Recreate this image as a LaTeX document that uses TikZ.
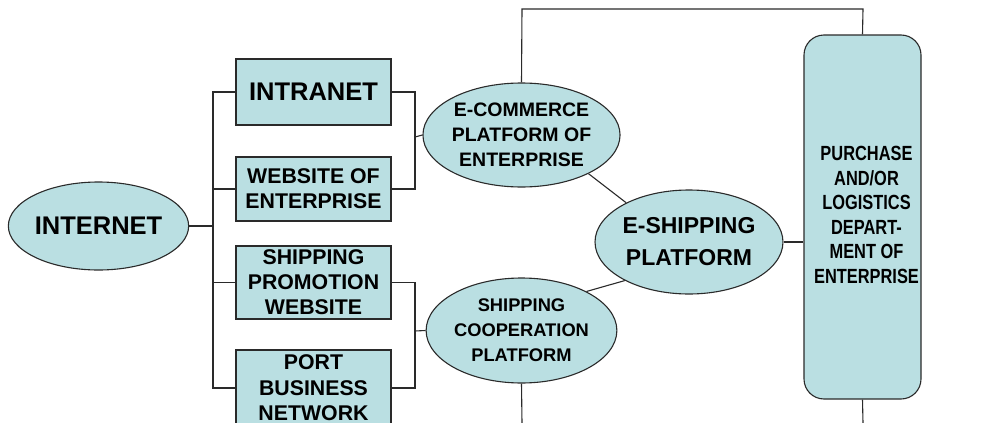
\documentclass[tikz,border=0pt]{standalone}
\usepackage{fontspec}
\setmainfont{Liberation Sans}
\usetikzlibrary{shapes.geometric}
\definecolor{fillc}{HTML}{BADFE2}
\definecolor{linec}{HTML}{2A2A2A}
\tikzset{
  base/.style={draw=linec, line width=1.1pt, fill=fillc, inner sep=0pt, align=center, font=\bfseries},
  ell/.style={base, ellipse},
  box/.style={base, rectangle, minimum width=155pt},
  conn/.style={draw=linec, line width=1.1pt},
}
\begin{document}
\begin{tikzpicture}[x=1pt, y=-1pt]
\useasboundingbox (0,0) rectangle (983,423);
% nodes
\node[ell, minimum width=179pt, minimum height=88pt, font=\bfseries\fontsize{25.5}{28}\selectfont] (internet) at (98.5,226) {INTERNET};
\node[box, minimum height=66pt, font=\bfseries\fontsize{25.5}{28}\selectfont] (intranet) at (313.5,92) {INTRANET};
\node[box, minimum height=64pt, font=\bfseries\fontsize{21.3}{25}\selectfont] (website) at (313.5,189) {WEBSITE OF\\ENTERPRISE};
\node[box, minimum height=73pt, font=\bfseries\fontsize{21.3}{25}\selectfont] (promo) at (313.5,282.5) {SHIPPING\\PROMOTION\\WEBSITE};
\node[box, minimum height=76pt, font=\bfseries\fontsize{21.3}{25.5}\selectfont] (port) at (313.5,388) {PORT\\BUSINESS\\NETWORK};
\node[ell, minimum width=175pt, minimum height=104pt, font=\bfseries\fontsize{19.5}{25}\selectfont] (ecom) at (521.5,135) {E-COMMERCE\\PLATFORM OF\\ENTERPRISE};
\node[ell, minimum width=175pt, minimum height=105pt, font=\bfseries\fontsize{18.3}{25}\selectfont] (coop) at (521.5,330.5) {SHIPPING\\COOPERATION\\PLATFORM};
\node[ell, minimum width=176pt, minimum height=104pt, font=\bfseries\fontsize{23}{32}\selectfont] (eship) at (689,242) {E-SHIPPING\\PLATFORM};
\node[base, rectangle, rounded corners=20pt, minimum width=117pt, minimum height=364pt] (purch) at (862.5,217)
  {\fontsize{20.5}{24.5}\selectfont\hspace*{8pt}\scalebox{0.8}[1]{\begin{tabular}{@{}c@{}}PURCHASE\\AND/OR\\LOGISTICS\\DEPART-\\MENT OF\\ENTERPRISE\end{tabular}}};
% coordinates
\coordinate (t1) at (213,226);
\coordinate (b1) at (415,137);
\coordinate (b2) at (415,331);
\coordinate (topL) at (522,9);
\coordinate (topR) at (863,9);
\coordinate (coopEnd) at (522,423);
\coordinate (purchEnd) at (863,423);
% connectors
\draw[conn] (internet.east) -- (t1);
\draw[conn] (intranet.west) -| (t1) |- (port.west);
\draw[conn] (website.west) -- (website.west -| t1);
\draw[conn] (promo.west) -- (promo.west -| t1);
\draw[conn] (intranet.east) -| (b1) |- (website.east);
\draw[conn] (b1) -- (ecom.west);
\draw[conn] (promo.east) -| (b2) |- (port.east);
\draw[conn] (b2) -- (coop.west);
\draw[conn] (ecom.north) -- (topL) -- (topR) -- (purch.north);
\draw[conn] (coop.south) -- (coopEnd);
\draw[conn] (purch.south) -- (purchEnd);
\draw[conn] (eship.east) -- (purch.west |- eship.east);
\draw[conn] (ecom.-30) -- (eship.148);
\draw[conn] (coop.31) -- (eship.211);
\end{tikzpicture}
\end{document}
